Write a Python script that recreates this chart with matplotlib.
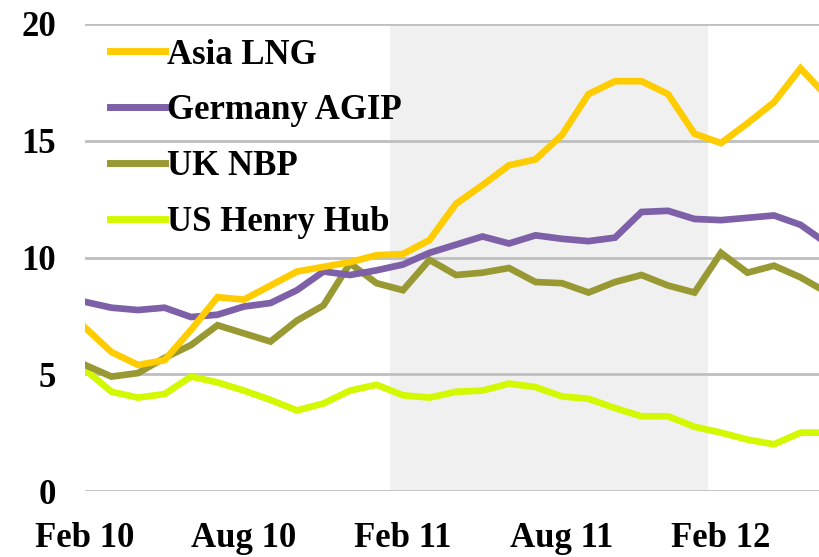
import matplotlib.pyplot as plt
from matplotlib.lines import Line2D

# monthly, Feb 10 .. Jun 12 (last point falls just past the cropped right edge)
months = ['Feb 10', 'Mar 10', 'Apr 10', 'May 10', 'Jun 10', 'Jul 10', 'Aug 10', 'Sep 10',
          'Oct 10', 'Nov 10', 'Dec 10', 'Jan 11', 'Feb 11', 'Mar 11', 'Apr 11', 'May 11',
          'Jun 11', 'Jul 11', 'Aug 11', 'Sep 11', 'Oct 11', 'Nov 11', 'Dec 11', 'Jan 12',
          'Feb 12', 'Mar 12', 'Apr 12', 'May 12', 'Jun 12']
asia_lng = [7.0, 5.95, 5.4, 5.6, 6.9, 8.3, 8.2, 8.8, 9.4, 9.6, 9.8, 10.1, 10.15, 10.75,
            12.3, 13.1, 13.95, 14.2, 15.25, 17.0, 17.55, 17.55, 17.0, 15.3, 14.9, 15.75,
            16.65, 18.1, 16.9]
germany_agip = [8.1, 7.85, 7.75, 7.85, 7.45, 7.55, 7.9, 8.05, 8.6, 9.4, 9.25, 9.45, 9.7,
                10.2, 10.55, 10.9, 10.6, 10.95, 10.8, 10.7, 10.85, 11.95, 12.0, 11.65,
                11.6, 11.7, 11.8, 11.4, 10.6]
uk_nbp = [5.4, 4.9, 5.05, 5.7, 6.25, 7.1, 6.75, 6.4, 7.3, 7.95, 9.75, 8.9, 8.6, 9.9,
          9.25, 9.35, 9.55, 8.95, 8.9, 8.5, 8.95, 9.25, 8.8, 8.5, 10.2, 9.35, 9.65, 9.15, 8.5]
us_henry_hub = [5.2, 4.25, 4.0, 4.15, 4.9, 4.65, 4.3, 3.9, 3.45, 3.75, 4.3, 4.55, 4.1,
                4.0, 4.25, 4.3, 4.6, 4.45, 4.05, 3.95, 3.55, 3.2, 3.2, 2.75, 2.5, 2.2,
                2.0, 2.5, 2.5]
tick_months = ['Feb 10', 'Aug 10', 'Feb 11', 'Aug 11', 'Feb 12']

font = 'Liberation Serif'
x = list(range(len(months)))

fig = plt.figure(figsize=(8.19, 5.57), dpi=100)
ax = fig.add_axes([85 / 819, 66 / 557, 1 - 85 / 819, 467 / 557])

# shaded period (roughly calendar 2011)
ax.axvspan(11.5, 23.5, ymax=0.995, color='#f0f0f0', zorder=0.2, lw=0)

series = [
    ('Asia LNG', asia_lng, '#ffcc00'),
    ('Germany AGIP', germany_agip, '#7d60a8'),
    ('UK NBP', uk_nbp, '#999933'),
    ('US Henry Hub', us_henry_hub, '#d4f800'),
]
for name, vals, col in series[::-1]:
    ax.plot(x, vals, color=col, lw=4.8, solid_joinstyle='miter', zorder=3)

ax.set_xlim(0, 734 / 26.5)
ax.set_ylim(0, 20)
ax.set_yticks([0, 5, 10, 15, 20])
ax.set_xticks([months.index(m) for m in tick_months])
ax.set_xticklabels(tick_months)

ax.yaxis.grid(True, color='#bfbfbf', lw=2)
ax.set_axisbelow(True)
for s in ax.spines.values():
    s.set_visible(False)
ax.tick_params(axis='both', length=0, labelsize=25)
ax.tick_params(axis='y', pad=21)
ax.tick_params(axis='x', pad=22)
for lab in ax.get_xticklabels() + ax.get_yticklabels():
    lab.set_family(font)
    lab.set_weight('bold')

handles = [Line2D([], [], color=col, lw=5) for _, _, col in series]
leg = ax.legend(handles, [s[0] for s in series], loc='upper left',
                bbox_to_anchor=(0.01, 1.006), frameon=False, borderpad=0,
                handlelength=1.6, handletextpad=0.05, labelspacing=0.66,
                prop={'family': font, 'weight': 'bold', 'size': 25})

fig.savefig('out.png', dpi=100)
